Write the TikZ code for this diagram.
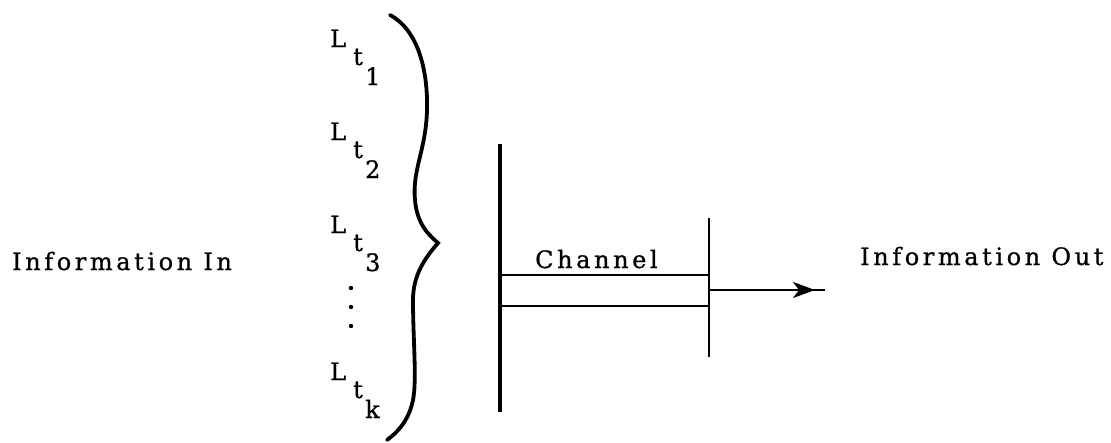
\documentclass[tikz,border=0pt]{standalone}
\usepackage{fontspec}
\setmainfont[FakeBold=0.8]{DejaVu Serif}
\newfontfamily\spacedfont[LetterSpace=15,FakeBold=0.8]{DejaVu Serif}
\usetikzlibrary{arrows.meta}
\tikzset{
  txt/.style={inner sep=0pt, anchor=base west, font=\spacedfont\fontsize{24}{26}\selectfont},
  sym/.style={inner sep=0pt, anchor=base west, font=\fontsize{24}{26}\selectfont},
  bar/.style={line width=3.8pt},
  rail/.style={line width=2.6pt},
  brace/.style={line width=3.8pt, line cap=round},
}
% one level symbol L with a doubly dropped subscript
\newcommand\levelsym[4]{% name, x, baseline y, index
  \node[sym] (#1L) at (#2,#3) {L};
  \node[sym] (#1t) at (#2+23,#3+18) {t};
  \node[sym] (#1i) at (#2+35,#3+38) {#4};
}
\begin{document}
\begin{tikzpicture}[x=1pt,y=-1pt]
\useasboundingbox (0,0) rectangle (1111,442);

\node[txt] (in) at (12,270) {Information In};
\node[txt] (out) at (860,265) {Information Out};

\levelsym{a}{330}{47}{1}
\levelsym{b}{330}{140}{2}
\levelsym{c}{330}{233}{3}
\levelsym{d}{330}{380}{k}
\foreach \y [count=\i] in {288,307,326}
  \fill (351,\y) circle (2.2pt) coordinate (dot\i);

% curly brace gathering the levels
\draw[brace] (390,15) .. controls (418,30) and (428,70) .. (427,110)
  .. controls (426,150) and (412,170) .. (415,200)
  .. controls (417,225) and (430,236) .. (438,243)
  .. controls (425,258) and (413,275) .. (413,300)
  .. controls (413,340) and (417,380) .. (413,400)
  .. controls (409,420) and (398,432) .. (387,440);

% channel
\coordinate (lt) at (500,144);
\coordinate (lb) at (500,412);
\coordinate (rt) at (709,218);
\coordinate (rb) at (709,357);
\coordinate (c1l) at (500,275);
\coordinate (c1r) at (709,275);
\coordinate (c2l) at (500,306);
\coordinate (c2r) at (709,306);
\coordinate (as) at (709,290);
\coordinate (ab) at (800,290);
\coordinate (ah) at (815,290);
\coordinate (ae) at (825,290);
\draw[bar] (lt) -- (lb);
\draw[rail] (rt) -- (rb);
\draw[rail] (c1l) -- (c1r);
\draw[rail] (c2l) -- (c2r);
\node[txt] (chan) at (535,268) {Channel};
\draw[rail] (as) -- (ae);
\draw[rail, -{Stealth[length=22pt,width=16pt,inset=6pt]}] (ab) -- (ah);
\end{tikzpicture}
\end{document}
